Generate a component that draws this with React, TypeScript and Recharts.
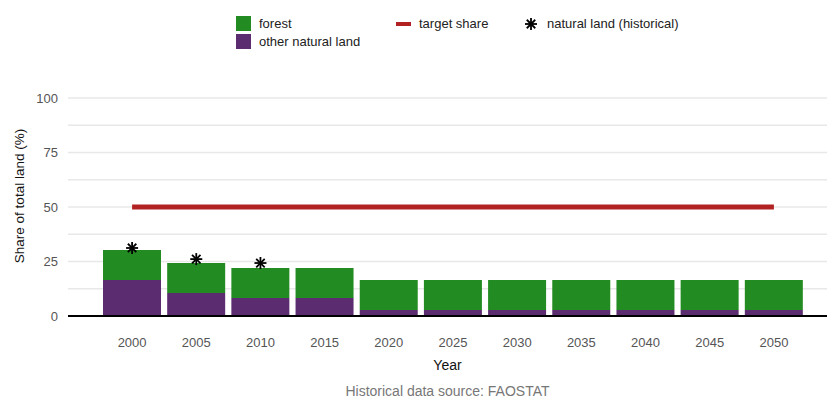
import React from 'react';
import { ComposedChart, Bar, Line, Scatter, XAxis, YAxis, CartesianGrid } from 'recharts';

const years = ['2000', '2005', '2010', '2015', '2020', '2025', '2030', '2035', '2040', '2045', '2050'];
const otherNatural = [16.5, 10.5, 8.3, 8.3, 2.8, 2.8, 2.8, 2.8, 2.8, 2.8, 2.8];
const forest = [13.8, 13.8, 13.7, 13.7, 13.7, 13.7, 13.7, 13.7, 13.7, 13.7, 13.7];
const targetShare = [50, 50, 50, 50, 50, 50, 50, 50, 50, 50, 50];
const historical = [31.2, 26.1, 24.3, null, null, null, null, null, null, null, null];
const yTicks = [0, 12.5, 25, 37.5, 50, 62.5, 75, 87.5, 100];
const yLabels = [0, 25, 50, 75, 100];

const FOREST = '#228b22';
const OTHER = '#5b2c6f';
const TARGET = '#b22222';
const FONT = '"Liberation Sans", Arial, Helvetica, sans-serif';

const data = years.map((year, i) => ({
  year,
  other: otherNatural[i],
  forest: forest[i],
  target: targetShare[i],
  historical: historical[i],
}));

const Asterisk = (props: any) => {
  const { cx, cy } = props;
  if (cx == null || cy == null || props.payload?.historical == null) return null;
  const r = 6;
  const d = r * 0.707;
  return (
    <g stroke="#000" strokeWidth={1.8}>
      <line x1={cx - r} y1={cy} x2={cx + r} y2={cy} />
      <line x1={cx} y1={cy - r} x2={cx} y2={cy + r} />
      <line x1={cx - d} y1={cy - d} x2={cx + d} y2={cy + d} />
      <line x1={cx - d} y1={cy + d} x2={cx + d} y2={cy - d} />
    </g>
  );
};

const YTick = (props: any) => {
  const { x, y, payload } = props;
  if (!yLabels.includes(payload.value)) return null;
  return (
    <text x={x} y={y} dy={4.5} textAnchor="end" fill="#555" fontSize={13} fontFamily={FONT}>
      {payload.value}
    </text>
  );
};

const LegendBox = ({ color }: { color: string }) => (
  <span style={{ display: 'inline-block', width: 15, height: 15, background: color }} />
);

export default function App() {
  return (
    <div style={{ position: 'absolute', left: 0, top: 0, width: 827, height: 399, background: '#fff', fontFamily: FONT }}>
      {/* legend */}
      <div style={{ position: 'absolute', left: 236, top: 16, fontSize: 13, color: '#222' }}>
        <div style={{ display: 'flex', alignItems: 'center', height: 15 }}>
          <LegendBox color={FOREST} />
          <span style={{ marginLeft: 8 }}>forest</span>
        </div>
        <div style={{ display: 'flex', alignItems: 'center', height: 15, marginTop: 3 }}>
          <LegendBox color={OTHER} />
          <span style={{ marginLeft: 8 }}>other natural land</span>
        </div>
      </div>
      <div style={{ position: 'absolute', left: 396, top: 16, height: 15, display: 'flex', alignItems: 'center', fontSize: 13, color: '#222' }}>
        <span style={{ display: 'inline-block', width: 15, height: 4, background: TARGET }} />
        <span style={{ marginLeft: 8 }}>target share</span>
      </div>
      <div style={{ position: 'absolute', left: 524, top: 16, height: 15, display: 'flex', alignItems: 'center', fontSize: 13, color: '#222' }}>
        <svg width={14} height={14}>
          <Asterisk cx={7} cy={7} payload={{ historical: 1 }} />
        </svg>
        <span style={{ marginLeft: 9 }}>natural land (historical)</span>
      </div>

      <ComposedChart
        width={827}
        height={399}
        data={data}
        margin={{ top: 98, right: 0, bottom: 53, left: 0 }}
        barCategoryGap={3}
      >
        <CartesianGrid vertical={false} stroke="#e8e8e8" strokeWidth={1.5} />
        <XAxis
          dataKey="year"
          padding={{ left: 32, right: 21 }}
          height={30}
          axisLine={{ stroke: '#000', strokeWidth: 2 }}
          tickLine={false}
          tickMargin={16}
          tick={{ fill: '#555', fontSize: 13, fontFamily: FONT }}
        />
        <YAxis
          domain={[0, 100]}
          ticks={yTicks}
          width={68}
          axisLine={false}
          tickLine={false}
          tickMargin={4}
          tick={<YTick />}
          interval={0}
        />
        <Bar dataKey="other" stackId="a" fill={OTHER} isAnimationActive={false} />
        <Bar dataKey="forest" stackId="a" fill={FOREST} isAnimationActive={false} />
        <Line dataKey="target" stroke={TARGET} strokeWidth={5} dot={false} activeDot={false} isAnimationActive={false} />
        <Scatter dataKey="historical" shape={<Asterisk />} isAnimationActive={false} />
      </ComposedChart>

      <div style={{ position: 'absolute', left: 68, width: 759, top: 357, textAlign: 'center', fontSize: 14, color: '#111' }}>Year</div>
      <div style={{ position: 'absolute', left: 68, width: 759, top: 383, textAlign: 'center', fontSize: 14, color: '#777' }}>
        Historical data source: FAOSTAT
      </div>
      <div
        style={{
          position: 'absolute',
          left: 19,
          top: 196,
          transform: 'translate(-50%, -50%) rotate(-90deg)',
          whiteSpace: 'nowrap',
          fontSize: 13.5,
          color: '#111',
        }}
      >
        Share of total land (%)
      </div>
    </div>
  );
}
